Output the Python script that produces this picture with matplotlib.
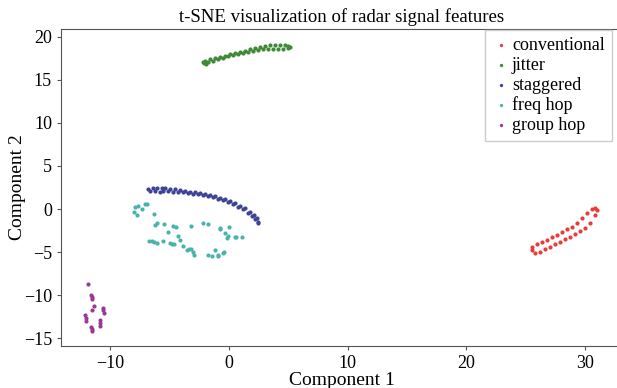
import matplotlib
matplotlib.use('Agg')
import matplotlib.pyplot as plt

plt.rcParams['font.family'] = ['Liberation Serif', 'DejaVu Serif']

# cluster coordinates
conv_x = [25.78, 26.20, 26.62, 27.04, 27.46, 27.89, 28.31, 28.73, 29.15, 29.57, 29.99, 30.41, 30.83, 30.98,
          25.50, 25.55, 25.92, 26.34, 26.76, 27.18, 27.60, 28.02, 28.45, 28.87, 29.29, 29.71, 30.13, 30.55, 30.83]
conv_y = [-5.15, -4.96, -4.65, -4.38, -4.07, -3.80, -3.53, -3.22, -2.91, -2.56, -2.17, -1.67, -0.70, -0.12,
          -4.38, -4.77, -4.10, -3.88, -3.60, -3.30, -3.02, -2.71, -2.36, -2.05, -1.67, -1.09, -0.50, -0.04, 0.08]

jit_x = [-2.11, -1.74, -1.32, -0.90, -0.48, -0.06, 0.36, 0.79, 1.21, 1.63, 2.05, 2.47, 2.89, 3.31, 3.74,
         4.16, 4.58, 5.00, 5.14,
         -2.02, -1.60, -1.18, -0.76, -0.34, 0.08, 0.51, 0.93, 1.35, 1.77, 2.19, 2.61, 3.03, 3.45, 3.88,
         4.30, 4.72, 5.00, -2.22, -1.90]
jit_y = [16.94, 17.05, 17.25, 17.40, 17.60, 17.75, 17.95, 18.06, 18.18, 18.30, 18.40, 18.49, 18.57, 18.60, 18.60,
         18.57, 18.57, 18.68, 18.87,
         17.25, 17.40, 17.56, 17.71, 17.83, 17.98, 18.14, 18.30, 18.40, 18.57, 18.72, 18.84, 18.95, 19.03, 19.07,
         19.07, 19.03, 18.95, 17.13, 16.90]

stag_x = [-6.80, -6.37, -6.09, -5.67, -5.39, -4.97, -4.55, -4.13, -3.71, -3.29, -2.86, -2.44, -2.02, -1.60,
          -1.18, -0.76, -0.34, 0.08, 0.51, 0.93, 1.35, 1.77, 2.11, 2.33, 2.47,
          -6.66, -6.23, -5.81, -5.53, -5.11, -4.69, -4.27, -3.85, -3.43, -3.00, -2.58, -2.16, -1.74, -1.32,
          -0.90, -0.48, -0.06, 0.37, 0.79, 1.21, 1.63, 1.91, 2.19, 2.42]
stag_y = [2.33, 2.40, 2.48, 2.40, 2.48, 2.33, 2.29, 2.21, 2.09, 2.02, 1.94, 1.86, 1.74, 1.63,
          1.47, 1.32, 1.12, 0.93, 0.66, 0.39, 0.08, -0.31, -0.70, -1.09, -1.47,
          2.09, 2.13, 2.02, 2.09, 2.13, 2.02, 2.02, 1.94, 1.86, 1.79, 1.74, 1.63, 1.51, 1.40,
          1.16, 1.01, 0.78, 0.54, 0.27, -0.04, -0.43, -0.81, -1.20, -1.59]

fh_x = [-7.9, -7.7, -8.0, -7.75, -7.3, -7.1, -6.9, -6.3, -6.1, -6.2, -5.5, -4.7, -4.5, -5.1, -4.3,
        -3.2, -2.2, -1.8, -0.8, -0.8, 0.0, -0.3, -0.1, -0.2, 0.6, 0.5, 1.1, -6.7, -6.5, -6.3,
        -6.1, -5.6, -5.0, -4.8, -4.6, -4.1, -3.9, -3.5, -3.4, -3.2, -3.0, -2.95, -1.8, -1.4,
        -1.2, -0.9, -0.9, -0.5, -0.4]
fh_y = [0.2, 0.35, -0.35, -0.7, 0.0, 0.6, 0.6, -0.6, -1.6, -1.9, -1.8, -2.0, -2.1, -2.7, -3.1,
        -2.0, -1.6, -1.8, -2.2, -2.3, -2.1, -2.8, -3.1, -3.4, -3.3, -3.2, -3.3, -3.7, -3.7, -3.8,
        -3.9, -3.7, -4.0, -4.1, -4.1, -3.6, -4.3, -4.8, -4.6, -4.6, -5.0, -5.4, -5.4, -5.5,
        -4.8, -5.5, -5.3, -5.1, -5.0]

gh_x = [-11.9, -11.6, -11.58, -11.55, -11.4, -11.5, -10.6, -10.58, -10.56, -12.1, -12.08, -12.06,
        -10.9, -10.88, -10.86, -11.65, -11.55, -11.5]
gh_y = [-8.75, -10.0, -10.25, -10.5, -11.3, -11.7, -11.5, -11.8, -12.05, -12.3, -12.65, -13.0,
        -12.9, -13.25, -13.6, -13.75, -13.95, -14.15]

labels = ['conventional', 'jitter', 'staggered', 'freq hop', 'group hop']
colors = ['#e63c3c', '#3f8a35', '#3e4396', '#48b3aa', '#963a96']
series = [(conv_x, conv_y), (jit_x, jit_y), (stag_x, stag_y), (fh_x, fh_y), (gh_x, gh_y)]

fig = plt.figure(figsize=(6.17, 3.88), dpi=100)
ax = fig.add_axes([61 / 617, 42 / 388, 561 / 617, 317 / 388])

for (xs, ys), lab, col in zip(series, labels, colors):
    ax.scatter(xs, ys, s=9, c=col, linewidths=0, label=lab)

ax.set_xlim(-14.15, 33.1)
ax.set_ylim(-15.93, 20.93)
ax.set_xticks([-10, 0, 10, 20, 30])
ax.set_yticks([-15, -10, -5, 0, 5, 10, 15, 20])
ax.tick_params(labelsize=13, length=3, color='#555555')
for sp in ax.spines.values():
    sp.set_color('#555555')

ax.set_title('t-SNE visualization of radar signal features', fontsize=13.5, pad=5)
ax.set_xlabel('Component 1', fontsize=14, labelpad=0)
ax.set_ylabel('Component 2', fontsize=14, labelpad=-2)

ax.legend(loc='upper right', bbox_to_anchor=(612 / 617, 1 - 30 / 388),
          bbox_transform=fig.transFigure, borderaxespad=0, fontsize=13,
          handletextpad=0.1, handlelength=1.0, labelspacing=0.15,
          markerscale=0.8, framealpha=1, edgecolor='#cccccc', fancybox=False)

plt.savefig('out.png', dpi=100)
